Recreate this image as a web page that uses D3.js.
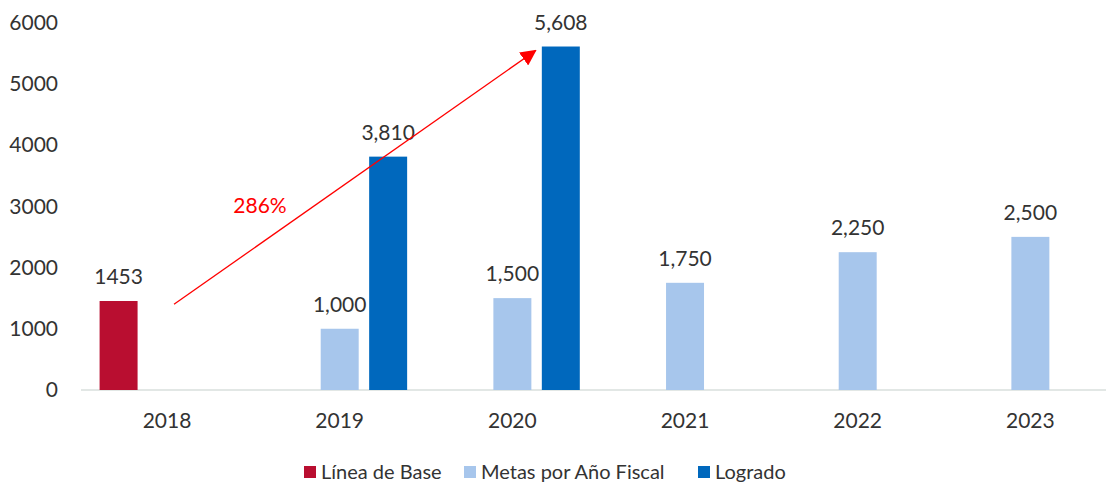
<!DOCTYPE html>
<html>
<head>
<meta charset="utf-8">
<script src="https://cdn.jsdelivr.net/npm/d3@7"></script>
<style>
  body { margin: 0; background: #fff; }
  text { font-family: Lato, "Open Sans", sans-serif; fill: #333; }
</style>
</head>
<body>
<script>
// data
var years = ["2018", "2019", "2020", "2021", "2022", "2023"];
var seriesNames = ["Línea de Base", "Metas por Año Fiscal", "Logrado"];
var baseline = [1453, null, null, null, null, null];
var metas = [null, 1000, 1500, 1750, 2250, 2500];
var logrado = [null, 3810, 5608, null, null, null];
var yTicks = [0, 1000, 2000, 3000, 4000, 5000, 6000];
var colours = ["#b90e30", "#a7c6ec", "#0068bd"];

var width = 1106, height = 485;
var svg = d3.select("body").append("svg")
  .attr("width", width)
  .attr("height", height);

var x0 = d3.scaleBand()
  .domain(years)
  .range([80.7, 1116.7])
  .padding(0);

var x1 = d3.scaleBand()
  .domain(seriesNames)
  .range([0, x0.bandwidth()])
  .paddingInner(0.216)
  .paddingOuter(0.39);

var y = d3.scaleLinear()
  .domain([0, 6000])
  .range([390, 22.5]);

// flatten into bar records
var allSeries = [baseline, metas, logrado];
var bars = [];
allSeries.forEach(function(vals, s) {
  vals.forEach(function(v, i) {
    if (v != null) bars.push({ year: years[i], series: seriesNames[s], value: v, s: s });
  });
});

// baseline of the category axis
svg.append("line")
  .attr("x1", 81).attr("x2", width)
  .attr("y1", y(0)).attr("y2", y(0))
  .attr("stroke", "#d9dfdc")
  .attr("stroke-width", 1.5);

// y tick labels, no axis line
svg.append("g").selectAll("text")
  .data(yTicks)
  .enter().append("text")
  .attr("x", 58)
  .attr("y", function(d) { return y(d); })
  .attr("dy", "0.35em")
  .attr("text-anchor", "end")
  .attr("font-size", 21)
  .text(function(d) { return d; });

// bars
svg.selectAll(".bar")
  .data(bars)
  .enter().append("rect")
  .attr("class", "bar")
  .attr("x", function(d) { return x0(d.year) + x1(d.series); })
  .attr("y", function(d) { return y(d.value); })
  .attr("width", x1.bandwidth())
  .attr("height", function(d) { return y(0) - y(d.value); })
  .attr("fill", function(d) { return colours[d.s]; });

// value labels (the baseline one has no thousands comma)
var fmt = d3.format(",");
svg.selectAll(".val")
  .data(bars)
  .enter().append("text")
  .attr("class", "val")
  .attr("x", function(d) { return x0(d.year) + x1(d.series) + x1.bandwidth() / 2; })
  .attr("y", function(d) { return y(d.value) - 17; })
  .attr("text-anchor", "middle")
  .attr("font-size", 21)
  .text(function(d) { return d.s === 0 ? d.value : fmt(d.value); });

// x labels
svg.append("g").selectAll("text")
  .data(years)
  .enter().append("text")
  .attr("x", function(d) { return x0(d) + x0.bandwidth() / 2; })
  .attr("y", 428)
  .attr("text-anchor", "middle")
  .attr("font-size", 21)
  .text(function(d) { return d; });

// growth arrow 2018 -> 2020
svg.append("defs").append("marker")
  .attr("id", "head")
  .attr("viewBox", "0 0 10 10")
  .attr("refX", 9).attr("refY", 5)
  .attr("markerWidth", 16).attr("markerHeight", 16)
  .attr("markerUnits", "userSpaceOnUse")
  .attr("orient", "auto")
  .append("path")
  .attr("d", "M0,0L10,5L0,10z")
  .attr("fill", "#ff0000");

var ax1 = x0("2018") + x0.bandwidth() / 2 + 7, ay1 = y(1400);
var ax2 = x0("2020") + x0.bandwidth() / 2 + 23, ay2 = y(5540);
svg.append("line")
  .attr("x1", ax1).attr("y1", ay1)
  .attr("x2", ax2).attr("y2", ay2)
  .attr("stroke", "#ff0000")
  .attr("stroke-width", 1.3)
  .attr("marker-end", "url(#head)");

svg.append("text")
  .attr("x", 260).attr("y", 213)
  .attr("text-anchor", "middle")
  .attr("font-size", 21)
  .style("fill", "#ff0000")
  .text("286%");

// legend
var legendX = [304, 464, 698];
var leg = svg.append("g").selectAll("g")
  .data(seriesNames)
  .enter().append("g")
  .attr("transform", function(d, i) { return "translate(" + legendX[i] + ",466)"; });
leg.append("rect")
  .attr("width", 12).attr("height", 12)
  .attr("fill", function(d, i) { return colours[i]; });
leg.append("text")
  .attr("x", 17).attr("y", 13)
  .attr("font-size", 20)
  .text(function(d) { return d; });
</script>
</body>
</html>
